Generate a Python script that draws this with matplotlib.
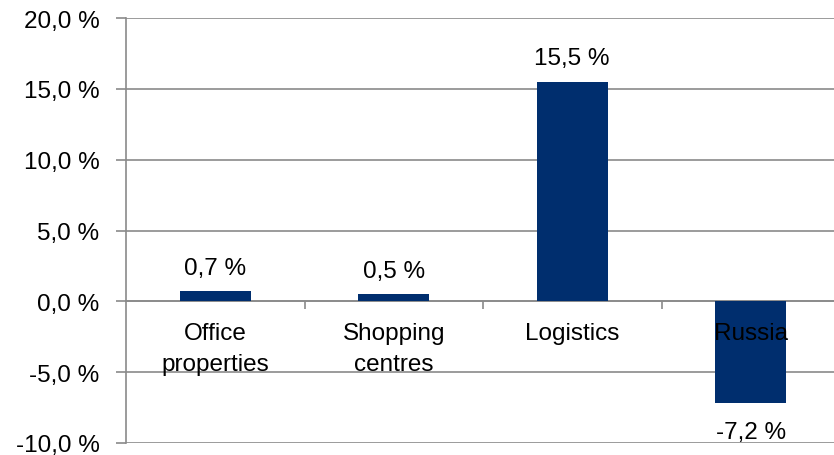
import matplotlib
matplotlib.use("Agg")
import matplotlib.pyplot as plt
import numpy as np

categories = ["Office\nproperties", "Shopping\ncentres", "Logistics", "Russia"]
values = [0.7, 0.5, 15.5, -7.2]
yticks = [-10, -5, 0, 5, 10, 15, 20]

plt.rcParams['font.family'] = ['Liberation Sans', 'DejaVu Sans']
bar_color = "#002e6e"
grid_color = "#8a8a8a"
fs = 17.5

def fmt(v):
    return f"{v:.1f} %".replace(".", ",")

fig = plt.figure(figsize=(8.34, 4.56), dpi=100)
W, H = 834, 456
ax = fig.add_axes([126 / W, (H - 444) / H, (840 - 126) / W, (444 - 19) / H])

x = np.arange(len(categories))
bars = ax.bar(x, values, width=0.4, color=bar_color, zorder=3)

ax.set_xlim(-0.5, len(categories) - 0.5)
ax.set_ylim(min(yticks), max(yticks))
ax.set_yticks(yticks)
ax.set_yticklabels([fmt(v) for v in yticks], fontsize=fs)
ax.yaxis.grid(True, color=grid_color, linewidth=1.2)
ax.tick_params(axis='y', length=7, color=grid_color, width=1.2, pad=12)
ax.yaxis.set_zorder(1)

for s in ['top', 'right']:
    ax.spines[s].set_visible(False)
ax.spines['left'].set_color(grid_color)
ax.spines['left'].set_linewidth(1.2)
ax.spines['bottom'].set_position(('data', 0))
ax.spines['bottom'].set_color(grid_color)
ax.spines['bottom'].set_linewidth(1.2)

ax.set_xticks(x)
ax.set_xticklabels(categories, fontsize=fs, linespacing=1.5)
ax.set_xticks(x[:-1] + 0.5, minor=True)
ax.tick_params(axis='x', which='major', length=0, pad=15)
ax.tick_params(axis='x', which='minor', length=6, color=grid_color, width=1.2)
ax.xaxis.set_zorder(4)

# value labels: outside end of each bar
for xi, v in zip(x, values):
    if v >= 0:
        ax.annotate(fmt(v), (xi, v), xytext=(0, 9), textcoords='offset points',
                    ha='center', va='bottom', fontsize=fs)
    else:
        ax.annotate(fmt(v), (xi, v), xytext=(0, -13), textcoords='offset points',
                    ha='center', va='top', fontsize=fs)

fig.savefig("out.png", dpi=100)
